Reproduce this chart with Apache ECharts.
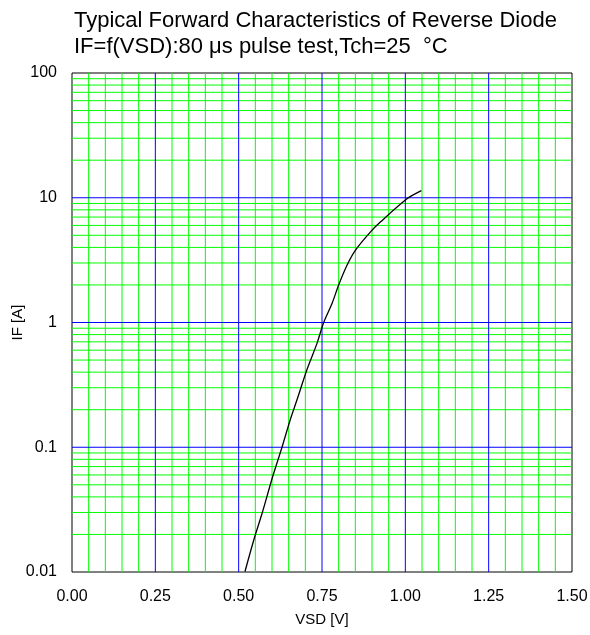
<!DOCTYPE html>
<html>
<head>
<meta charset="utf-8">
<script src="https://cdn.jsdelivr.net/npm/echarts@6/dist/echarts.min.js"></script>
<style>
html,body{margin:0;padding:0;background:#fff;}
#chart{width:590px;height:635px;}
</style>
</head>
<body>
<div id="chart"></div>
<script>
var titleLines = ['Typical Forward Characteristics of Reverse Diode', 'IF=f(VSD):80 \u03bcs pulse test,Tch=25  \u00b0C'];
var xName = 'VSD [V]';
var yName = 'IF [A]';
var xTicks = [0, 0.25, 0.5, 0.75, 1.0, 1.25, 1.5];
var yTicks = [0.01, 0.1, 1, 10, 100];
var vsd = [0.519, 0.546, 0.571, 0.601, 0.630, 0.655, 0.675, 0.705, 0.735, 0.755, 0.780, 0.800, 0.825, 0.850, 0.895, 0.925, 1.005, 1.048];
var iF  = [0.0101, 0.0183, 0.030, 0.057, 0.10, 0.167, 0.24, 0.42, 0.68, 1.0, 1.42, 2.0, 2.88, 3.79, 5.3, 6.38, 9.8, 11.4];

var FONT = '"Liberation Sans", Arial, sans-serif';
var GREEN = '#00ff00';
var BLUE = '#0000ff';

var X0 = xTicks[0], X1 = xTicks[xTicks.length - 1];
var Y0 = yTicks[0], Y1 = yTicks[yTicks.length - 1];

// grid line values on the axes
var xMinor = [];
for (var k = 1; k < 30; k++) { if (k % 5 !== 0) xMinor.push(+(k * 0.05).toFixed(2)); }
var yMinor = [];
for (var d = 0; d < yTicks.length - 1; d++) {
  for (var m = 2; m <= 9; m++) yMinor.push(+(yTicks[d] * m).toPrecision(3));
}
var xMajorInner = xTicks.slice(1, -1);
var yMajorInner = yTicks.slice(1, -1);

function gridSegments(xs, ys) {
  var out = [];
  xs.forEach(function (v) { out.push([v, Y0], [v, Y1], [v, '-']); });
  ys.forEach(function (v) { out.push([X0, v], [X1, v], ['-', v]); });
  return out;
}

var curve = vsd.map(function (v, i) { return [v, iF[i]]; });

var chart = echarts.init(document.getElementById('chart'), null, { renderer: 'canvas' });
chart.setOption({
  animation: false,
  backgroundColor: '#fff',
  textStyle: { fontFamily: FONT },
  title: {
    text: titleLines.join('\n'),
    left: 74, top: 8, padding: 0,
    textStyle: { fontFamily: FONT, fontSize: 22, fontWeight: 'normal', color: '#000', lineHeight: 26 }
  },
  grid: { left: 72, right: 18, top: 73, bottom: 63, containLabel: false, outerBoundsMode: 'none',
    show: true, borderColor: '#000', borderWidth: 1, backgroundColor: 'transparent' },
  xAxis: {
    type: 'value', min: X0, max: X1, interval: 0.25,
    name: xName, nameLocation: 'middle', nameGap: 40, nameMoveOverlap: false,
    nameTextStyle: { fontFamily: FONT, fontSize: 15, color: '#000' },
    axisLine: { show: false }, axisTick: { show: false },
    splitLine: { show: false },
    axisLabel: { fontFamily: FONT, fontSize: 16, color: '#000', margin: 17, formatter: function (v) { return v.toFixed(2); } }
  },
  yAxis: {
    type: 'log', logBase: 10, min: Y0, max: Y1,
    name: yName, nameLocation: 'middle', nameGap: 47, nameMoveOverlap: false,
    nameTextStyle: { fontFamily: FONT, fontSize: 15, color: '#000' },
    axisLine: { show: false }, axisTick: { show: false },
    splitLine: { show: false },
    axisLabel: { fontFamily: FONT, fontSize: 16, color: '#000', margin: 15,
      formatter: function (v) { return String(+v.toPrecision(3)); } }
  },
  series: [
    {
      type: 'line', data: gridSegments(xMinor, yMinor), silent: true, z: 1,
      symbol: 'none', connectNulls: false,
      lineStyle: { color: GREEN, width: 1 }
    },
    {
      type: 'line', data: gridSegments(xMajorInner, yMajorInner), silent: true, z: 2,
      symbol: 'none', connectNulls: false,
      lineStyle: { color: BLUE, width: 1 }
    },
    {
      type: 'line', data: curve, z: 3, smooth: 0.3, symbol: 'none',
      lineStyle: { color: '#000', width: 1.3 }
    }
  ]
});
</script>
</body>
</html>
